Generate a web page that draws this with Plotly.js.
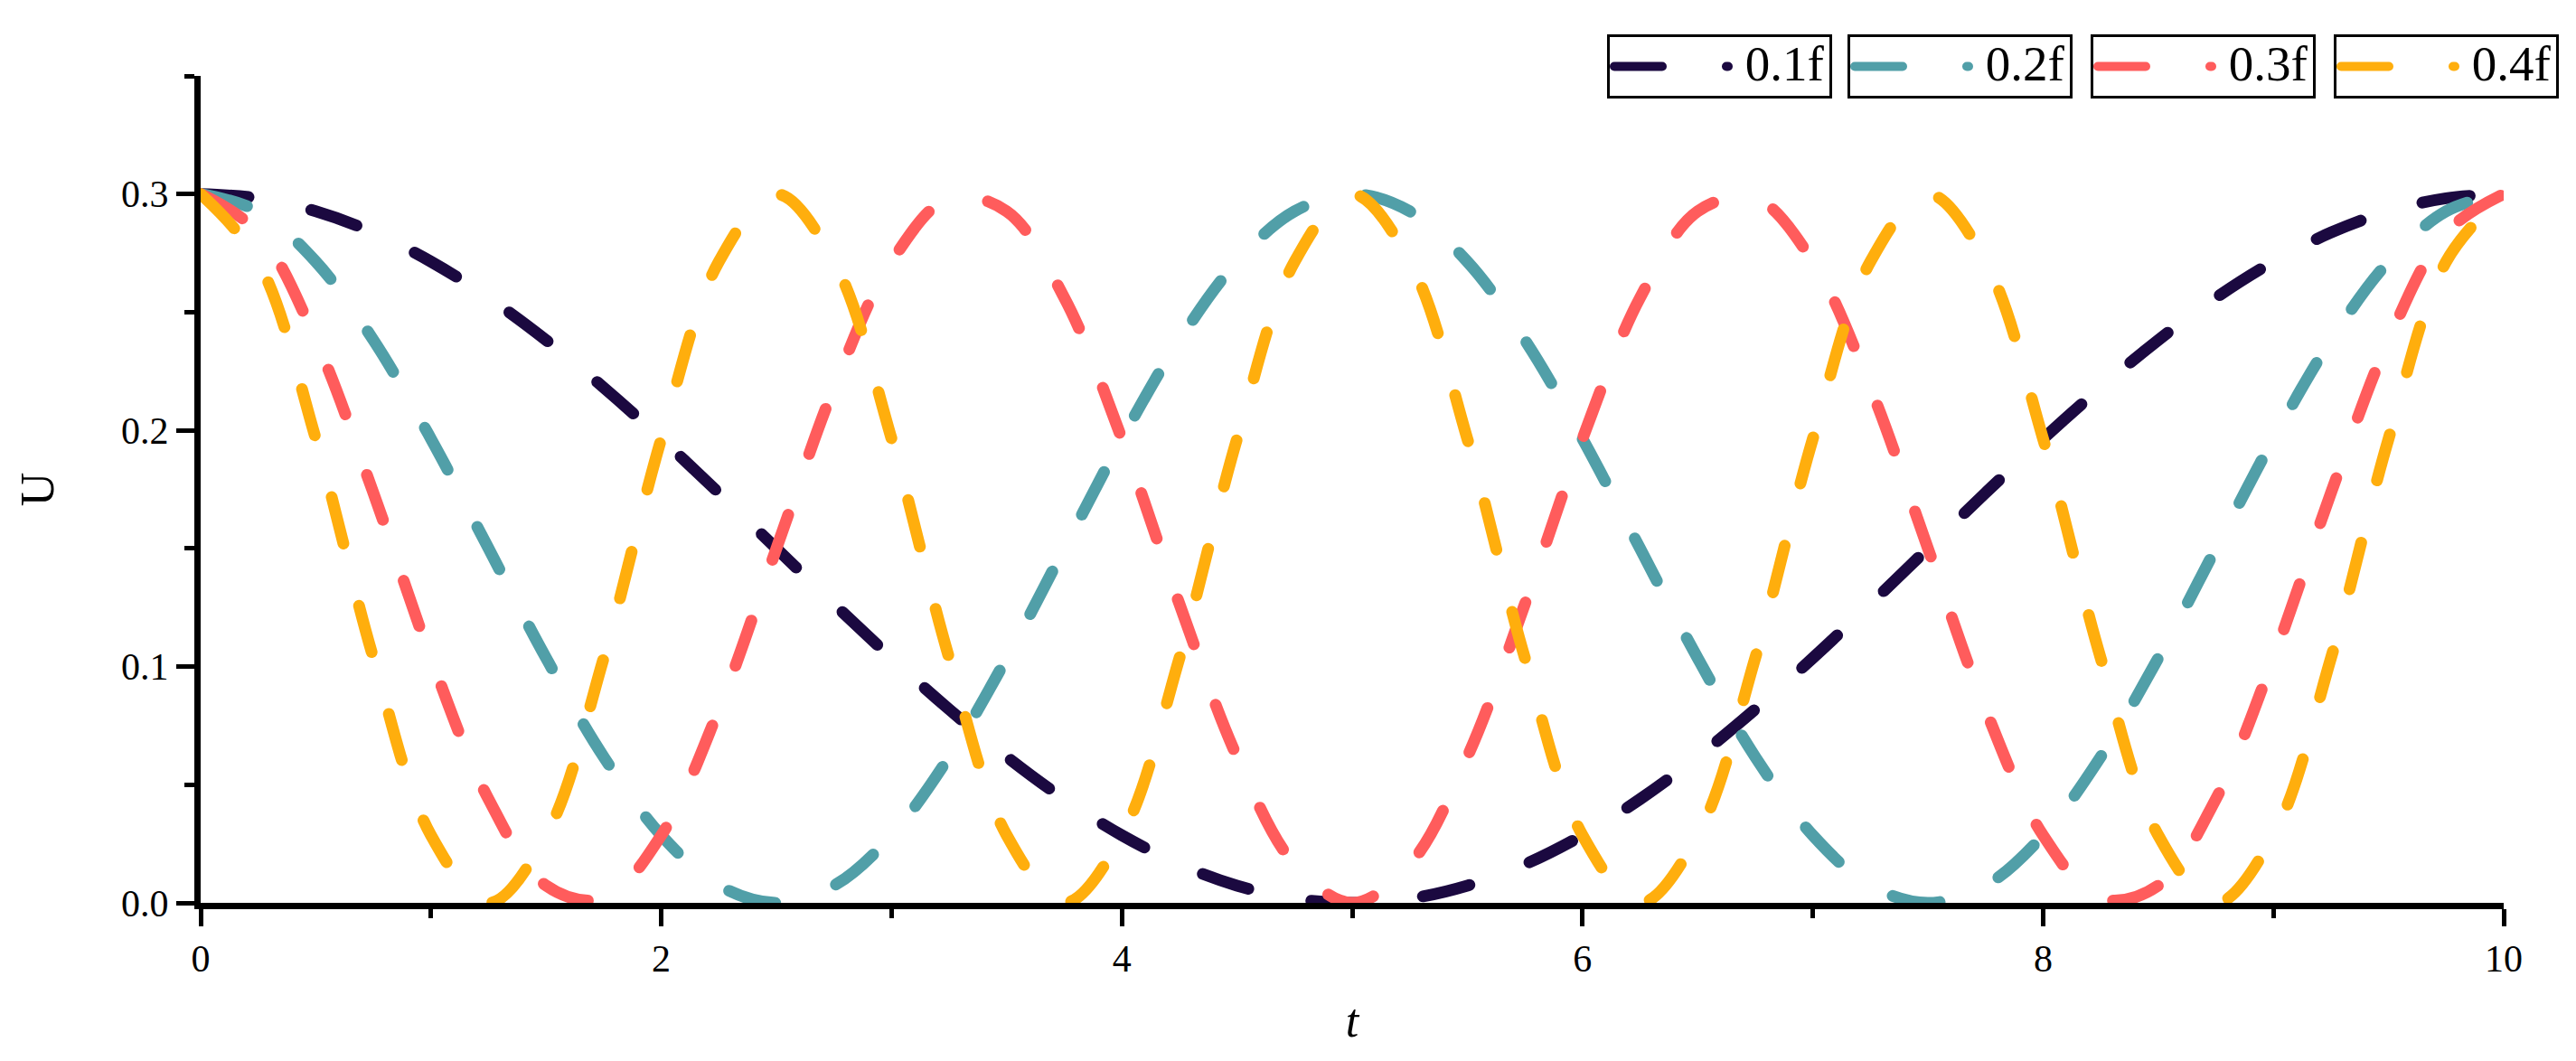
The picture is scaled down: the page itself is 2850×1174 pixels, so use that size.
<!DOCTYPE html>
<html>
<head>
<meta charset="utf-8">
<script src="https://cdn.plot.ly/plotly-3.0.1.min.js"></script>
<style>
html, body { margin: 0; padding: 0; background: #fff; }
#chart { width: 2850px; height: 1174px; }
path.js-line { stroke-linecap: round !important; }
</style>
</head>
<body>
<div id="chart"></div>
<script>
// time axis
const t = [0,0.25,0.5,0.75,1,1.25,1.5,1.75,2,2.25,2.5,2.75,3,3.25,3.5,3.75,4,4.25,4.5,4.75,5,
           5.25,5.5,5.75,6,6.25,6.5,6.75,7,7.25,7.5,7.75,8,8.25,8.5,8.75,9,9.25,9.5,9.75,10];

// series values
const u01 = [0.3000,0.2982,0.2927,0.2837,0.2714,0.2561,0.2382,0.2181,0.1964,0.1735,0.1500,
             0.1265,0.1036,0.0819,0.0618,0.0439,0.0286,0.0163,0.0073,0.0018,0.0000,
             0.0018,0.0073,0.0163,0.0286,0.0439,0.0618,0.0819,0.1036,0.1265,0.1500,
             0.1735,0.1964,0.2181,0.2382,0.2561,0.2714,0.2837,0.2927,0.2982,0.3000];
const u02 = [0.3000,0.2927,0.2714,0.2382,0.1964,0.1500,0.1036,0.0618,0.0286,0.0073,0.0000,
             0.0073,0.0286,0.0618,0.1036,0.1500,0.1964,0.2382,0.2714,0.2927,0.3000,
             0.2927,0.2714,0.2382,0.1964,0.1500,0.1036,0.0618,0.0286,0.0073,0.0000,
             0.0073,0.0286,0.0618,0.1036,0.1500,0.1964,0.2382,0.2714,0.2927,0.3000];
const u03 = [0.3000,0.2837,0.2382,0.1735,0.1036,0.0439,0.0073,0.0018,0.0286,0.0819,0.1500,
             0.2181,0.2714,0.2982,0.2927,0.2561,0.1964,0.1265,0.0618,0.0163,0.0000,
             0.0163,0.0618,0.1265,0.1964,0.2561,0.2927,0.2982,0.2714,0.2181,0.1500,
             0.0819,0.0286,0.0018,0.0073,0.0439,0.1036,0.1735,0.2382,0.2837,0.3000];
const u04 = [0.3000,0.2714,0.1964,0.1036,0.0286,0.0000,0.0286,0.1036,0.1964,0.2714,
             0.3000,0.2714,0.1964,0.1036,0.0286,0.0000,0.0286,0.1036,0.1964,0.2714,
             0.3000,0.2714,0.1964,0.1036,0.0286,0.0000,0.0286,0.1036,0.1964,0.2714,
             0.3000,0.2714,0.1964,0.1036,0.0286,0.0000,0.0286,0.1036,0.1964,0.2714,0.3000];

const seriesNames = ['0.1f', '0.2f', '0.3f', '0.4f'];
const seriesValues = [u01, u02, u03, u04];
const seriesColors = ['#1b0940', '#519fa8', '#ff5c5c', '#ffae0d'];
const legendIds = ['legend', 'legend2', 'legend3', 'legend4'];
const legendLeft = [1778, 2044, 2313, 2582];

const FONT = '"Liberation Serif", "Times New Roman", serif';

const data = seriesNames.map((name, i) => ({
  type: 'scatter',
  mode: 'lines',
  name: '<span style="font-size:55px">\u00a0' + name + '</span>',
  x: t,
  y: seriesValues[i],
  legend: legendIds[i],
  line: { color: seriesColors[i], width: 13, dash: '53px,71px', shape: 'spline', smoothing: 1 }
}));

const layout = {
  width: 2850,
  height: 1174,
  paper_bgcolor: '#ffffff',
  plot_bgcolor: '#ffffff',
  font: { family: FONT, color: '#000', size: 42 },
  margin: { l: 222, r: 80, t: 84, b: 175, autoexpand: false },
  xaxis: {
    range: [0, 10],
    dtick: 2,
    tick0: 0,
    showgrid: false,
    zeroline: false,
    showline: true,
    linecolor: '#000',
    linewidth: 7,
    ticks: 'outside',
    ticklen: 19,
    tickwidth: 5,
    tickcolor: '#000',
    tickfont: { size: 42, family: FONT },
    minor: { ticks: 'outside', dtick: 1, tick0: 0, ticklen: 10, tickwidth: 5, tickcolor: '#000', showgrid: false },
    title: { text: '<i>t</i>', font: { size: 52, family: FONT }, standoff: 30 }
  },
  yaxis: {
    range: [0, 0.35],
    dtick: 0.1,
    tick0: 0,
    tickformat: '.1f',
    showgrid: false,
    zeroline: false,
    showline: true,
    linecolor: '#000',
    linewidth: 7,
    ticks: 'outside',
    ticklen: 20,
    tickwidth: 5,
    tickcolor: '#000',
    tickfont: { size: 42, family: FONT },
    minor: { ticks: 'outside', dtick: 0.05, tick0: 0, ticklen: 11, tickwidth: 5, tickcolor: '#000', showgrid: false },
    title: { text: 'U', font: { size: 52, family: FONT }, standoff: 60 }
  },
  showlegend: true
};

legendIds.forEach((id, i) => {
  layout[id] = {
    xref: 'container', yref: 'container',
    x: legendLeft[i] / 2850,
    y: 1 - 38 / 1174,
    xanchor: 'left', yanchor: 'top',
    bgcolor: 'rgba(255,255,255,0)',
    bordercolor: '#000',
    borderwidth: 3,
    itemwidth: 126,
    font: { size: 40, family: FONT, color: '#000' }
  };
});

Plotly.newPlot('chart', data, layout, { displayModeBar: false, staticPlot: true });
</script>
</body>
</html>
